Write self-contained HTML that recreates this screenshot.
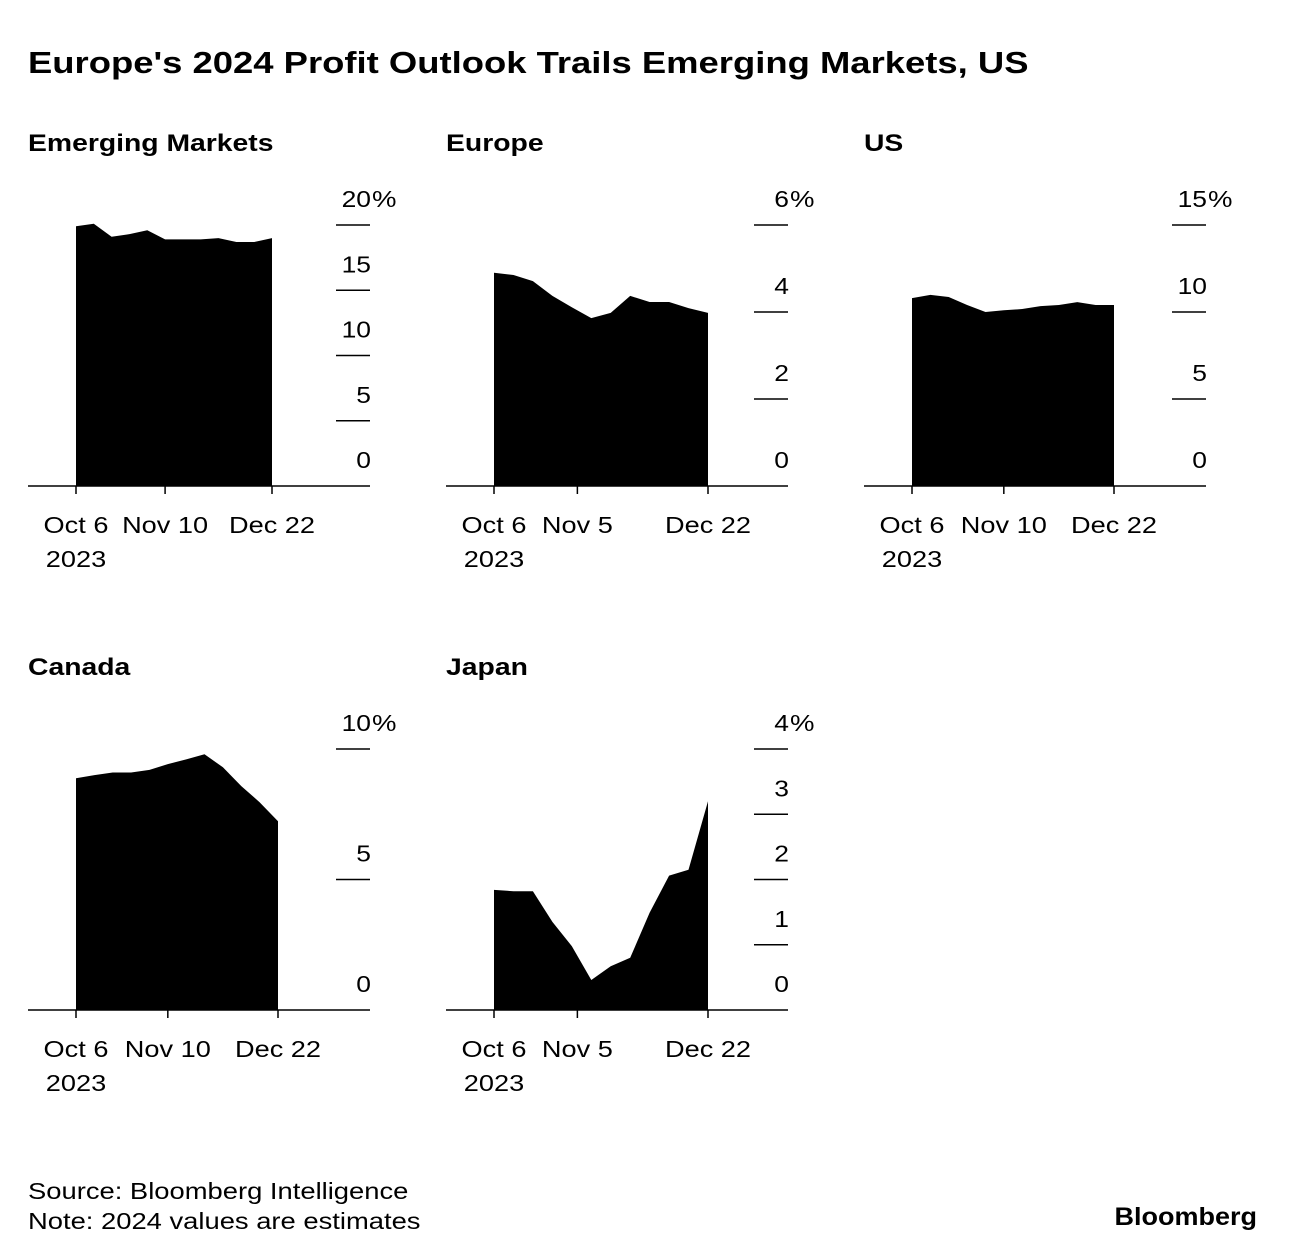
<!DOCTYPE html>
<html><head><meta charset="utf-8"><style>
html,body{margin:0;padding:0;background:#fff;}
svg{display:block;font-family:"Liberation Sans",Arial,sans-serif;}
</style></head><body>
<svg id="chart" width="1296" height="1260" viewBox="0 0 1296 1260">
<text class="w" data-w="1.175" x="28" y="73" font-size="31" font-weight="bold" fill="#000">Europe's 2024 Profit Outlook Trails Emerging Markets, US</text>
<text class="w" data-w="1.19" x="28" y="1199" font-size="23" fill="#000">Source: Bloomberg Intelligence</text>
<text class="w" data-w="1.19" x="28" y="1229" font-size="23" fill="#000">Note: 2024 values are estimates</text>
<text class="w" data-w="1.08" x="1257" y="1225" font-size="25" font-weight="bold" text-anchor="end" fill="#000">Bloomberg</text>
</svg>
<script>
const emValues=[19.9,20.1,19.1,19.3,19.6,18.9,18.9,18.9,19.0,18.7,18.7,19.0];
const euValues=[4.9,4.85,4.71,4.37,4.11,3.86,3.98,4.37,4.23,4.23,4.09,3.98];
const usValues=[10.8,10.98,10.86,10.4,10.0,10.1,10.17,10.34,10.4,10.57,10.4,10.4];
const caValues=[8.88,9.0,9.1,9.1,9.2,9.42,9.6,9.8,9.3,8.58,7.96,7.23];
const jpValues=[1.84,1.82,1.82,1.35,0.98,0.46,0.67,0.80,1.49,2.06,2.15,3.2];
const weekDays=[0,7,14,21,28,35,42,49,56,63,70,77];
const emTicks=[0,5,10,15,20];
const euTicks=[0,2,4,6];
const usTicks=[0,5,10,15];
const caTicks=[0,5,10];
const jpTicks=[0,1,2,3,4];
const dateLabelsA=[{d:0,t:"Oct 6"},{d:35,t:"Nov 10"},{d:77,t:"Dec 22"}];
const dateLabelsB=[{d:0,t:"Oct 6"},{d:30,t:"Nov 5"},{d:77,t:"Dec 22"}];

const NS="http://www.w3.org/2000/svg";
const svg=document.getElementById('chart');
function mk(tag,attrs,parent){const e=document.createElementNS(NS,tag);for(const k in attrs)e.setAttribute(k,attrs[k]);(parent||svg).appendChild(e);return e;}

function panel(name,title,px,base,x1,values,ticks,maxV,dates){
  const g=mk('g',{});
  
  
  const xs=d=>px+48+d*(x1-px-48)/77;
  const ys=v=>base-v/maxV*261;
  const t=mk('text',{x:px,y:base-335,'font-size':24,'font-weight':'bold','class':'w','data-w':1.18},g);
  t.textContent=title;
  
  
  let d='M'+xs(weekDays[0])+','+base;
  values.forEach((v,i)=>{d+=' L'+xs(weekDays[i]).toFixed(1)+','+ys(v).toFixed(1);});
  d+=' L'+xs(weekDays[weekDays.length-1])+','+base+' Z';
  const a=mk('path',{d:d,fill:'#000'},g);
  
  
  const ax=mk('line',{x1:px,x2:px+342,y1:base,y2:base,stroke:'#000','stroke-width':1.5},g);
  
  
  ticks.forEach(v=>{
    const y=ys(v);
    if(v>0){const l=mk('line',{x1:px+308,x2:px+342,y1:y,y2:y,stroke:'#000','stroke-width':1.5},g);
      
      }
    const tx=mk('text',{x:px+343,y:y-18,'font-size':23,'text-anchor':'end','class':'w','data-w':1.15},g);
    tx.textContent=v;
    
    
    if(v===maxV){const p=mk('text',{x:px+344,y:y-18,'font-size':23,'class':'w','data-w':1.2},g);p.textContent='%';
      
      }
  });
  dates.forEach((o,i)=>{
    const x=xs(o.d);
    const l=mk('line',{x1:x,x2:x,y1:base,y2:base+8,stroke:'#000','stroke-width':1.5},g);
    
    
    const tx=mk('text',{x:x,y:base+47,'font-size':23,'text-anchor':'middle','class':'w','data-w':1.18},g);
    tx.textContent=o.t;
    
    
    if(i===0){const y2=mk('text',{x:x,y:base+81,'font-size':23,'text-anchor':'middle','class':'w','data-w':1.18},g);y2.textContent='2023';
      
      }
  });
}
panel('emerging-markets','Emerging Markets',28,486,272,emValues,emTicks,20,dateLabelsA);
panel('europe','Europe',446,486,708,euValues,euTicks,6,dateLabelsB);
panel('us','US',864,486,1114,usValues,usTicks,15,dateLabelsA);
panel('canada','Canada',28,1010,278,caValues,caTicks,10,dateLabelsA);
panel('japan','Japan',446,1010,708,jpValues,jpTicks,4,dateLabelsB);
document.querySelectorAll('text.w').forEach(t=>{
  const f=parseFloat(t.getAttribute('data-w'));
  const len=t.getComputedTextLength();
  t.setAttribute('textLength',(len*f).toFixed(1));
  t.setAttribute('lengthAdjust','spacingAndGlyphs');
});
</script>
</body></html>
